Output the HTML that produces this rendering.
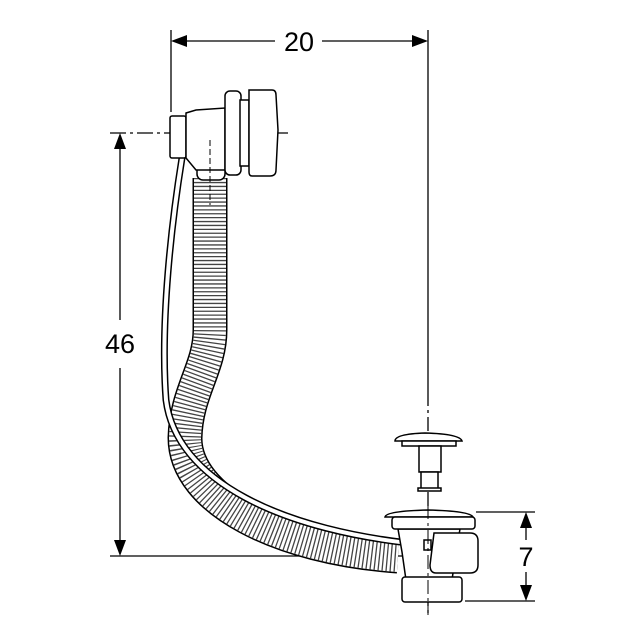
<!DOCTYPE html>
<html><head><style>html,body{margin:0;padding:0;background:#fff}svg{display:block}</style></head>
<body>
<svg width="640" height="640" viewBox="0 0 640 640" xmlns="http://www.w3.org/2000/svg" font-family="Liberation Sans, sans-serif">
<g stroke="#000" stroke-width="1.3" fill="none">
<line x1="171" y1="30" x2="171" y2="112"/>
<line x1="428" y1="30" x2="428" y2="392"/>
<line x1="428" y1="392" x2="428" y2="615" stroke-dasharray="14 4 3 4"/>
<line x1="186" y1="41" x2="275" y2="41"/>
<line x1="322" y1="41" x2="414" y2="41"/>
<line x1="110" y1="133" x2="290" y2="133" stroke-dasharray="16 4 3 4"/>
<line x1="110" y1="556" x2="420" y2="556"/>
<line x1="120" y1="148" x2="120" y2="320"/>
<line x1="120" y1="368" x2="120" y2="541"/>
<line x1="476" y1="512" x2="535" y2="512"/>
<line x1="465" y1="601" x2="535" y2="601"/>
<line x1="526" y1="527" x2="526" y2="540"/>
<line x1="526" y1="572" x2="526" y2="586"/>
</g>
<g fill="#000">
<polygon points="171,41 187,35 187,47"/>
<polygon points="428,41 412,35 412,47"/>
<polygon points="120,133 114,149 126,149"/>
<polygon points="120,556 114,540 126,540"/>
<polygon points="526,512 520,528 532,528"/>
<polygon points="526,601 520,585 532,585"/>
</g>
<text x="299" y="51" font-size="27" text-anchor="middle">20</text>
<text x="120" y="353" font-size="27" text-anchor="middle">46</text>
<text x="526" y="566" font-size="27" text-anchor="middle">7</text>

<path d="M210 178 L210 330 C 210 368,186 392,185 438 C 185 500,280 548,398 556" stroke="#000" stroke-width="35" fill="none"/>
<path d="M210 178 L210 330 C 210 368,186 392,185 438 C 185 500,280 548,398 556" stroke="#fff" stroke-width="32" fill="none"/>
<path d="M210 178 L210 330 C 210 368,186 392,185 438 C 185 500,280 548,398 556" stroke="#444" stroke-width="32" stroke-dasharray="1.3 2.6" fill="none"/>
<path d="M182 158 C 172 220,160 320,166 400 C 176 480,280 532,428 545" stroke="#000" stroke-width="7" fill="none"/>
<path d="M182 158 C 172 220,160 320,166 400 C 176 480,280 532,428 545" stroke="#fff" stroke-width="4" fill="none"/>

<g stroke="#000" stroke-width="1.5" fill="#fff">
<rect x="197" y="148" width="28" height="32" rx="6"/>
<rect x="170" y="116" width="16" height="42" rx="2"/>
<path d="M186 113 L196 110 L225 108 L225 170 L196 170 L186 158 Z"/>
<rect x="225" y="91" width="16" height="84" rx="5"/>
<rect x="240" y="100" width="9" height="66"/>
<path d="M249 90 L272 90 Q276 90 276 95 L278 130 L276 170 Q276 176 270 176 L252 176 Q249 176 249 172 Z"/>
</g>
<line x1="210" y1="140" x2="210" y2="205" stroke="#000" stroke-width="1" stroke-dasharray="6 3"/>

<g stroke="#000" stroke-width="1.5" fill="#fff">
<path d="M395 441 Q395 434 425 433 Q460 434 462 441 Z"/>
<rect x="402" y="441" width="54" height="5"/>
<rect x="419" y="446" width="22" height="26"/>
<rect x="421" y="472" width="17" height="17"/>
<rect x="418" y="488" width="23" height="3"/>
<path d="M398 529 L460 529 L456 552 L452 580 L406 580 L402 552 Z"/>
<rect x="402" y="577" width="60" height="25" rx="3"/>
<path d="M385 517 Q386 511 428 510 Q470 511 473 517 Z"/>
<rect x="392" y="517" width="83" height="12" rx="3"/>
<path d="M434 533 L470 533 Q478 533 478 541 L478 565 Q478 573 470 573 L436 573 Q430 573 430 565 Z"/>
<rect x="424" y="540" width="7" height="10"/>
</g>
<line x1="428" y1="505" x2="428" y2="615" stroke="#000" stroke-width="1" stroke-dasharray="14 4 3 4"/>
</svg>
</body></html>
